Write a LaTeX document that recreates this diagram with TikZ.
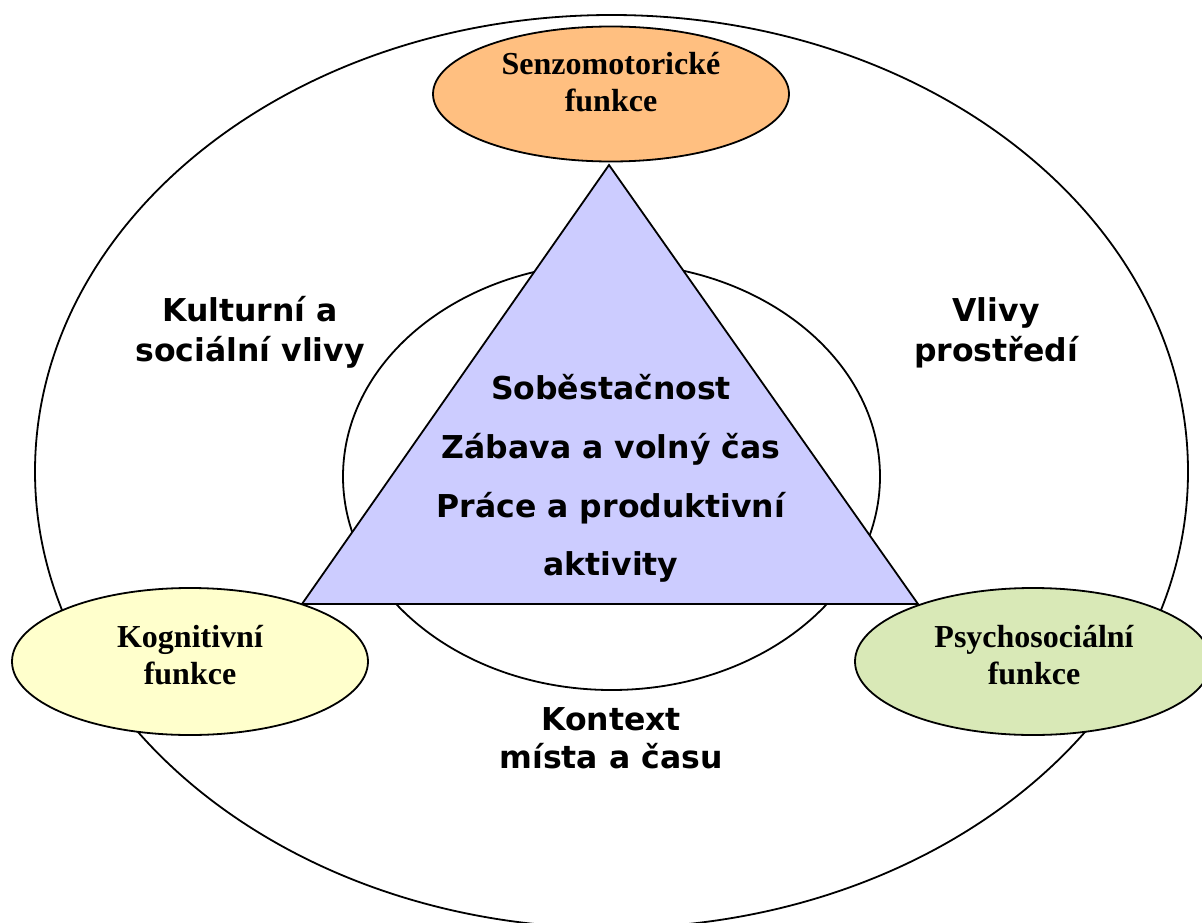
\documentclass[tikz,border=0pt]{standalone}
\usepackage{fontspec}
\setmainfont{Liberation Serif}
\newfontfamily\verd{DejaVu Sans}
\usetikzlibrary{shapes.geometric}

\definecolor{senzfill}{RGB}{255,191,128}
\definecolor{kognfill}{RGB}{255,255,204}
\definecolor{psychfill}{RGB}{217,233,183}
\definecolor{trifill}{RGB}{204,204,255}

\begin{document}
\begin{tikzpicture}[x=1pt,y=-1pt,
  ring/.style={draw, ellipse, line width=1.8pt, inner sep=0pt, outer sep=0pt},
  func/.style={ring, minimum width=356pt},
  serifbold/.style={font=\fontsize{32}{38}\selectfont\bfseries, anchor=base, inner sep=0pt},
  sansbold/.style={font=\verd\fontsize{31.5}{38}\selectfont\bfseries, anchor=base, inner sep=0pt},
]
\useasboundingbox (0,0) rectangle (1202,923);
\clip (0,0) rectangle (1202,923);

% context rings
\node[ring, minimum width=1153pt, minimum height=913pt] (outer) at (611.5,471.5) {};
\node[ring, minimum width=537pt, minimum height=427pt] (inner) at (611.5,476.5) {};

% occupation triangle
\coordinate (apex) at (609,165);
\coordinate (bl) at (302,604);
\coordinate (br) at (918,604);
\draw[fill=trifill, line width=1.8pt, line join=miter] (apex) -- (bl) -- (br) -- cycle;

% performance components
\node[func, fill=senzfill, minimum height=135pt] (senz) at (611,94) {};
\node[func, fill=kognfill, minimum height=147pt] (kogn) at (190,661.5) {};
\node[func, fill=psychfill, minimum height=147pt] (psych) at (1033,661.5) {};

\node[serifbold] (senz1) at (611,75) {Senzomotorické};
\node[serifbold] (senz2) at (611,112) {funkce};
\node[serifbold] (kogn1) at (190,647) {Kognitivní};
\node[serifbold] (kogn2) at (190,684) {funkce};
\node[serifbold] (psych1) at (1034,647) {Psychosociální};
\node[serifbold] (psych2) at (1034,684) {funkce};

% areas of occupation
\node[sansbold] (occ1) at (611,399) {Soběstačnost};
\node[sansbold] (occ2) at (611,458) {Zábava a volný čas};
\node[sansbold] (occ3) at (611,517) {Práce a produktivní};
\node[sansbold] (occ4) at (611,575) {aktivity};

% contexts
\node[sansbold] (kult1) at (250,321) {Kulturní a};
\node[sansbold] (kult2) at (250,361) {sociální vlivy};
\node[sansbold] (prost1) at (996,321) {Vlivy};
\node[sansbold] (prost2) at (996,361) {prostředí};
\node[sansbold] (kont1) at (611,730) {Kontext};
\node[sansbold] (kont2) at (611,768) {místa a času};
\end{tikzpicture}
\end{document}
